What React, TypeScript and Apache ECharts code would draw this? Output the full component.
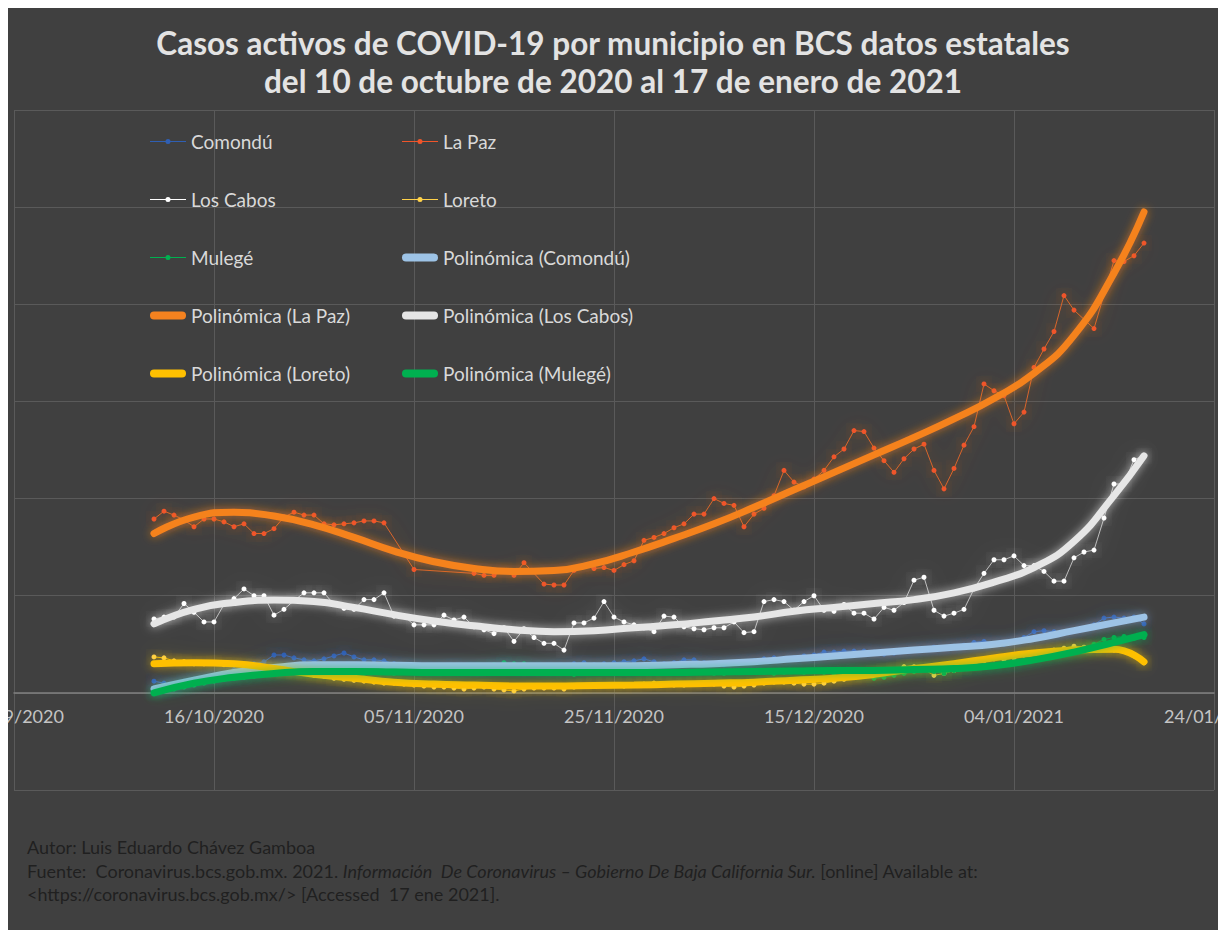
import React, { useEffect, useRef } from "react";
import * as echarts from "echarts";

// Axis starts 26/09/2020; first data day (10/10/2020) is 14 days later
const AXIS_START_UTC = Date.UTC(2020, 8, 26);
const FIRST_DAY_OFFSET = 14;
const X_MIN = 0;
const X_MAX = 120;
const X_INTERVAL = 20;

const TITLE = "Casos activos de COVID-19 por municipio en BCS datos estatales\ndel 10 de octubre de 2020 al 17 de enero de 2021";

// Daily active cases, 10/10/2020 .. 17/01/2021 (100 days); null = no point
const comondu = [
  12, 10, 8, 12, 14, 16, 18, 20, 24, 26, 30, 32, 39, 39, 36, 34, 33, 35, 38, 41,
  37, 34, 34, 33, 30, 29, 27, 26, 25, 27, 28, 26, 25, 24, 27, 29, 26, 24, 25, 26,
  27, 28, 30, 31, 29, 30, 31, 32, 33, 35, 32, 30, 31, 34, 34, 31, 30, 29, 31, 32,
  33, 35, 36, 35, 36, 38, 39, 42, 42, 43, 43, 43, 42, 40, 41, 43, 44, 45, 47, 46,
  48, 49, 52, 53, 51, 50, 53, 57, 63, 64, 63, 62, 64, 66, 70, 77, 78, 77, 78, 71,
];
const laPaz = [
  179, 187, 183, 178, 171, 179, 179, 176, 171, 174, 164, 164, 169, 181, 186, 183, 183, 174, 173, 174,
  175, 177, 177, 175, null, null, 127, null, null, null, null, null, 123, 121, 121, 126, 121, 134, null, 112,
  111, 111, 126, 131, 128, 129, 126, 132, 136, 157, 160, 164, 170, 174, 184, 184, 200, 195, 193, 171,
  184, 190, 203, 229, 217, 212, 220, 229, 243, 251, 270, 269, 252, 239, 227, 241, 251, 256, 229, 210,
  231, 255, 274, 318, 311, 306, 277, 289, 335, 354, 372, 409, 394, null, 375, null, 445, 444, 450, 463,
];
const losCabos = [
  76, 78, 78, 92, 83, 73, 73, 91, 97, 107, 100, 100, 80, 86, 95, 103, 103, 103, 91, 87,
  86, 96, 96, 103, 79, 79, 70, 70, 70, 80, 75, 78, 68, 65, 61, 67, 53, 66, 57, 51,
  51, 44, 72, 72, 77, 94, 78, 73, 70, 67, 63, 79, 78, 68, 66, 65, 67, 67, 73, 62,
  63, 94, 96, 94, 85, 94, 100, 85, 84, 91, 82, 82, 76, 88, 85, 93, 116, 119, 85, 79,
  82, 86, 107, 123, 137, 137, 141, 131, 131, 125, 115, 115, 139, 145, 147, 180, 215, 215, 240, 244,
];
const loreto = [
  37, 36, 33, 32, 30, 30, 31, 29, 29, 28, 27, 26, 24, 22, 21, 20, 18, 17, 15, 14,
  13, 12, 11, 10, 10, 9, 8, 7, 6, 6, 5, 4, 5, 6, 4, 3, 2, 4, 5, 5,
  5, 4, 6, 7, 8, 8, 8, 7, 8, 9, 10, 9, 8, 8, 9, 10, 9, 7, 6, 7,
  8, 10, 11, 11, 10, 9, 9, 10, 12, 14, 16, 18, 20, 22, 24, 27, 27, 24, 18, 20,
  23, 27, 30, 33, 35, 34, 36, 39, 41, 42, 44, 46, 48, 47, 46, 45, 44, 43, 38, 31,
];
const mulege = [
  0, 2, 4, 6, 8, 10, 12, 14, 15, 16, 17, 19, 20, 21, 22, 22, 23, 22, 21, 22,
  21, 20, 22, 21, 20, 21, 22, 21, 20, 21, 22, 23, 25, 27, 29, 31, 30, 30, 26, 23,
  21, 20, 19, 20, 21, 22, 21, 20, 21, 22, 21, 20, 20, 21, 22, 21, 20, 20, 21, 22,
  21, 21, 20, 21, 22, 21, 22, 21, 20, 21, 22, 18, 15, 16, 18, 20, 22, 24, 22, 20,
  23, 25, 26, 27, 28, 29, 30, 32, 34, 36, 38, 40, 42, 46, 50, 55, 57, 58, 56, 57,
];

// Polynomial trend lines, at these day numbers (0 = 10/10/2020)
const trendDays = [0, 4, 8, 12, 16, 20, 24, 28, 32, 36, 40, 44, 48, 52, 56, 60, 64, 68, 72, 76, 80, 84, 88, 92, 96, 99];
const trendComondu = [4, 13, 21, 26, 29, 29, 28.5, 28, 28, 28, 28, 28, 28, 29, 30, 32, 35, 38, 41, 44, 47, 50, 56, 64, 72, 78];
const trendLaPaz = [164, 181, 186, 182, 173, 160, 146, 135, 128, 125, 126, 133, 145, 159, 174, 191, 209, 227, 245, 263, 282, 303, 329, 368, 432, 495];
const trendLosCabos = [71, 86, 93, 95.5, 94, 88, 80.5, 74, 69, 65, 63, 64, 67, 70, 74, 78, 84, 88, 92, 96, 103, 114, 129, 156, 203, 244];
const trendLoreto = [30, 31, 30, 25, 19, 15, 11, 9, 8, 7, 7, 7.5, 8, 9, 10, 11, 13, 15, 19, 25, 30, 36, 41, 44, 45, 32];
const trendMulege = [0, 10, 16, 20, 22, 22, 21.5, 21, 21, 21, 21, 21, 21, 21, 21.5, 22, 22.5, 23, 23, 24, 25, 28, 34, 42, 52, 60];

const FONT = "Lato, 'Open Sans', sans-serif";

// legend icons: thin line with a dot (daily data) and a thick rounded bar (trend)
const ICON_DATA = "path://M0,3.6 L36,3.6 L36,4.4 L0,4.4 Z M15.5,4 A2.5,2.5 0 1 1 20.5,4 A2.5,2.5 0 1 1 15.5,4 Z";
const ICON_TREND = "path://M4,0 L32,0 A4,4 0 0 1 32,8 L4,8 A4,4 0 0 1 4,0 Z";

function fmtDate(v: number): string {
  const d = new Date(AXIS_START_UTC + Math.round(v) * 86400000);
  const dd = String(d.getUTCDate()).padStart(2, "0");
  const mm = String(d.getUTCMonth() + 1).padStart(2, "0");
  return `${dd}/${mm}/${d.getUTCFullYear()}`;
}

function rawSeries(name: string, values: (number | null)[], color: string, lineColor: string, glow: string) {
  const data: [number, number][] = [];
  values.forEach((v, i) => {
    if (v !== null) data.push([FIRST_DAY_OFFSET + i, v]);
  });
  return {
    name,
    type: "line",
    data,
    symbol: "circle",
    symbolSize: 5,
    showSymbol: true,
    connectNulls: true,
    z: 2,
    lineStyle: { width: 1, color: lineColor, shadowBlur: 18, shadowColor: glow },
    itemStyle: { color, borderWidth: 0, shadowBlur: 14, shadowColor: glow },
    emphasis: { disabled: true },
  };
}

function trendSeries(name: string, values: number[], color: string, glow: string) {
  return {
    name,
    type: "line",
    data: trendDays.map((d, i) => [FIRST_DAY_OFFSET + d, values[i]]),
    smooth: true,
    symbol: "none",
    z: 3,
    itemStyle: { color },
    lineStyle: { width: 7, color, cap: "round", shadowBlur: 10, shadowColor: glow },
    emphasis: { disabled: true },
  };
}

const legendText = { color: "#d9d9d9", fontFamily: FONT, fontSize: 19, lineHeight: 16 };

const legendItem = (name: string, trend: boolean) => ({ name, icon: trend ? ICON_TREND : ICON_DATA });

const option = {
  animation: false,
  backgroundColor: "#404040",
  title: {
    text: TITLE,
    left: "center",
    top: 11,
    textStyle: { color: "#e3e3e3", fontFamily: FONT, fontWeight: "bold", fontSize: 31.5, lineHeight: 38 },
  },
  legend: [
    {
      orient: "vertical",
      left: 137,
      top: 119,
      itemWidth: 36,
      itemHeight: 16,
      itemGap: 39,
      selectedMode: false,
      symbolKeepAspect: true,
      textStyle: legendText,
      data: [
        legendItem("Comondú", false),
        legendItem("Los Cabos", false),
        legendItem("Mulegé", false),
        legendItem("Polinómica (La Paz)", true),
        legendItem("Polinómica (Loreto)", true),
      ],
    },
    {
      orient: "vertical",
      left: 389,
      top: 119,
      itemWidth: 36,
      itemHeight: 16,
      itemGap: 39,
      selectedMode: false,
      symbolKeepAspect: true,
      textStyle: legendText,
      data: [
        legendItem("La Paz", false),
        legendItem("Loreto", false),
        legendItem("Polinómica (Comondú)", true),
        legendItem("Polinómica (Los Cabos)", true),
        legendItem("Polinómica (Mulegé)", true),
      ],
    },
  ],
  grid: { left: 6, right: 4, top: 102, bottom: 140, containLabel: false, outerBoundsMode: "none" },
  xAxis: {
    type: "value",
    position: "bottom",
    offset: -97.1,
    min: X_MIN,
    max: X_MAX,
    interval: X_INTERVAL,
    axisLine: { show: true, onZero: false, lineStyle: { color: "#808080", width: 1.5 } },
    axisTick: { show: false },
    axisLabel: { color: "#c4c4c4", fontFamily: FONT, fontSize: 18, margin: 14, formatter: (v: number) => fmtDate(v) },
    splitLine: { show: true, lineStyle: { color: "#5a5a5a", width: 1 } },
  },
  yAxis: {
    type: "value",
    min: -100,
    max: 600,
    interval: 100,
    axisLine: { show: false },
    axisTick: { show: false },
    axisLabel: { show: false },
    splitLine: { show: true, lineStyle: { color: "#5a5a5a", width: 1 } },
  },
  graphic: [
    {
      type: "text",
      left: 19,
      top: 830,
      style: { text: "Autor: Luis Eduardo Chávez Gamboa", fill: "#202020", font: `18px ${FONT}` },
    },
    {
      type: "text",
      left: 19,
      top: 854,
      style: {
        text: "{n|Fuente:  Coronavirus.bcs.gob.mx. 2021. }{i|Información  De Coronavirus – Gobierno De Baja California Sur.}{n| [online] Available at:}",
        rich: {
          n: { fill: "#202020", fontFamily: FONT, fontSize: 18 },
          i: { fill: "#202020", fontFamily: FONT, fontSize: 18, fontStyle: "italic" },
        },
      },
    },
    {
      type: "text",
      left: 19,
      top: 877,
      style: { text: "<https://coronavirus.bcs.gob.mx/> [Accessed  17 ene 2021].", fill: "#202020", font: `18px ${FONT}` },
    },
  ],
  series: [
    rawSeries("Comondú", comondu, "#2f5fb3", "#3a66b5", "rgba(70,110,200,0.85)"),
    rawSeries("La Paz", laPaz, "#f0552a", "#d8652c", "rgba(240,110,40,0.9)"),
    rawSeries("Los Cabos", losCabos, "#ffffff", "#bdbdbd", "rgba(255,255,255,0.75)"),
    rawSeries("Loreto", loreto, "#ffd24a", "#e8b400", "rgba(255,210,0,0.85)"),
    rawSeries("Mulegé", mulege, "#00b050", "#00a048", "rgba(0,190,90,0.75)"),
    trendSeries("Polinómica (Comondú)", trendComondu, "#9dc3e6", "rgba(157,195,230,0.6)"),
    trendSeries("Polinómica (La Paz)", trendLaPaz, "#f5821f", "rgba(245,130,31,0.7)"),
    trendSeries("Polinómica (Los Cabos)", trendLosCabos, "#e6e6e6", "rgba(255,255,255,0.6)"),
    trendSeries("Polinómica (Loreto)", trendLoreto, "#ffc000", "rgba(255,200,0,0.6)"),
    trendSeries("Polinómica (Mulegé)", trendMulege, "#00b050", "rgba(0,176,80,0.6)"),
  ],
};

export default function App() {
  const ref = useRef<HTMLDivElement>(null);
  useEffect(() => {
    if (!ref.current) return;
    const chart = echarts.init(ref.current, undefined, { renderer: "svg" });
    chart.setOption(option as any);
    return () => chart.dispose();
  }, []);
  return <div ref={ref} style={{ position: "absolute", left: 8, top: 8, width: 1210, height: 922 }} />;
}
